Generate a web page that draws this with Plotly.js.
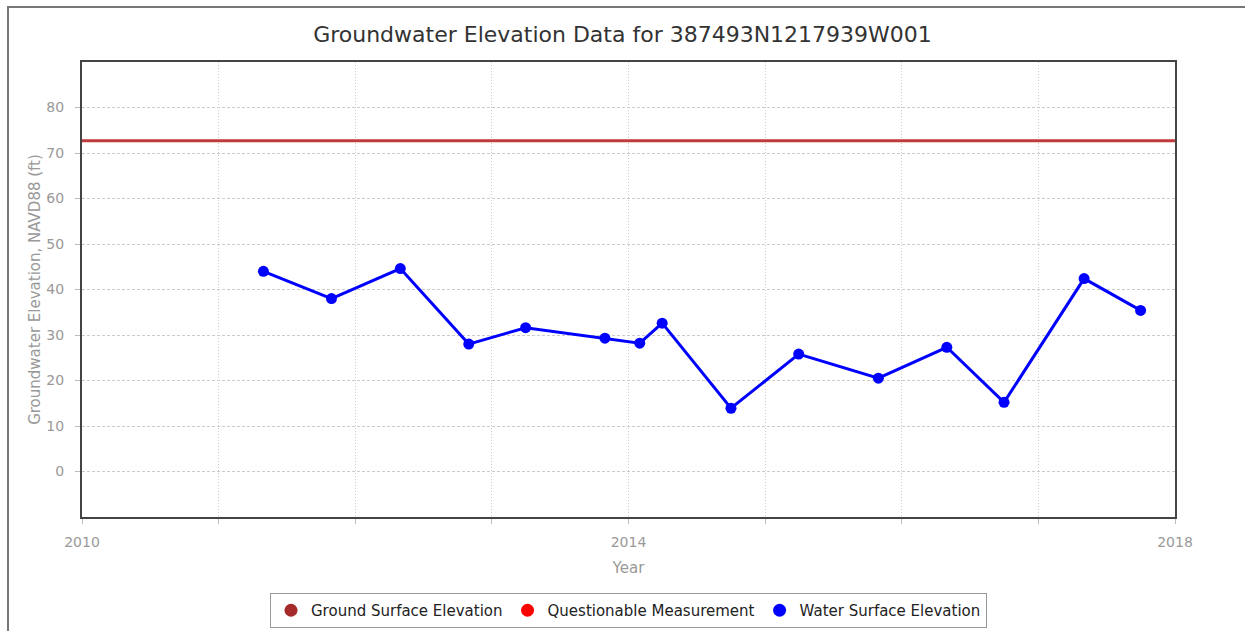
<!DOCTYPE html>
<html>
<head>
<meta charset="utf-8">
<script src="https://cdn.plot.ly/plotly-3.0.1.min.js"></script>
<style>
html,body{margin:0;padding:0;background:#fff;overflow:hidden;}
#frame{position:absolute;left:7px;top:6px;width:1400px;height:800px;border:2px solid #777;box-sizing:border-box;}
#chart{position:absolute;left:0;top:0;width:1245px;height:631px;}
</style>
</head>
<body>
<div id="frame"></div>
<div id="chart"></div>
<script>
// Water surface elevation measurements
var measureDates = ['2011-05-01','2011-10-30','2012-05-01','2012-10-31','2013-04-01','2013-10-30','2014-01-31','2014-04-01','2014-10-02','2015-04-01','2015-10-31','2016-05-01','2016-10-01','2017-05-03','2017-10-01'];
var waterElev = [44.0, 38.0, 44.6, 28.0, 31.6, 29.3, 28.2, 32.6, 13.9, 25.8, 20.5, 27.3, 15.2, 42.4, 35.4];
// Ground surface elevation (constant reference line)
var groundDates = ['2010-01-01','2018-01-01'];
var groundElev = [72.7, 72.7];
// Questionable measurements (none)
var questDates = [];
var questElev = [];
// Axis ticks
var xTickVals = ['2010-01-01','2011-01-01','2012-01-01','2013-01-01','2014-01-01','2015-01-01','2016-01-01','2017-01-01','2018-01-01'];
var xTickText = ['2010','','','','2014','','','','2018'];
var yTickVals = [0,10,20,30,40,50,60,70,80];

var font = 'DejaVu Sans, Verdana, sans-serif';

var traces = [
  {x: groundDates, y: groundElev, mode: 'lines', line: {color: '#c0393b', width: 3}, showlegend: false, hoverinfo: 'skip'},
  {x: measureDates, y: waterElev, mode: 'lines+markers', line: {color: '#0000ff', width: 3}, marker: {color: '#0000ff', size: 11}, showlegend: false},
  {x: questDates, y: questElev, mode: 'markers', marker: {color: '#ff0000', size: 11}, showlegend: false},
  // legend entries
  {x: [null], y: [null], mode: 'markers', name: 'Ground Surface Elevation', marker: {color: '#a52a2a', size: 13}},
  {x: [null], y: [null], mode: 'markers', name: 'Questionable Measurement', marker: {color: '#ff0000', size: 13}},
  {x: [null], y: [null], mode: 'markers', name: 'Water Surface Elevation', marker: {color: '#0000ff', size: 13}}
];

var layout = {
  width: 1245, height: 631,
  paper_bgcolor: 'rgba(0,0,0,0)',
  plot_bgcolor: '#fff',
  margin: {l: 82, r: 70, t: 62, b: 114},
  font: {family: font},
  title: {text: 'Groundwater Elevation Data for 387493N1217939W001', font: {family: font, size: 22, color: '#333'}, x: 0.5, xref: 'container', y: 0.945, yanchor: 'middle'},
  xaxis: {
    type: 'date', range: ['2010-01-01','2018-01-01'],
    tickmode: 'array', tickvals: xTickVals, ticktext: xTickText,
    ticks: 'outside', ticklen: 5, tickcolor: '#bbb', ticklabelstandoff: 6,
    tickfont: {family: font, size: 14, color: '#999'},
    showgrid: true, gridcolor: '#ccc', griddash: '1px,2px', gridwidth: 1,
    showline: true, linecolor: '#444', linewidth: 2, mirror: true,
    zeroline: false, automargin: false,
    title: {text: 'Year', font: {family: font, size: 15, color: '#999'}}
  },
  yaxis: {
    range: [-10, 90],
    tickmode: 'array', tickvals: yTickVals,
    ticks: 'outside', ticklen: 5, tickcolor: '#bbb', ticklabelstandoff: 8,
    tickfont: {family: font, size: 14, color: '#999'},
    showgrid: true, gridcolor: '#ccc', griddash: '3px,2px', gridwidth: 1,
    showline: true, linecolor: '#444', linewidth: 2, mirror: true,
    zeroline: false, automargin: false,
    title: {text: 'Groundwater Elevation, NAVD88 (ft)', font: {family: font, size: 15, color: '#999'}}
  },
  legend: {
    orientation: 'h', x: 0.5, xanchor: 'center', xref: 'paper',
    y: 0.0602, yanchor: 'top', yref: 'container',
    bordercolor: '#999', borderwidth: 1, bgcolor: '#fff',
    font: {family: font, size: 15, color: '#222'},
    itemwidth: 30, tracegroupgap: 0
  },
  showlegend: true
};

Plotly.newPlot('chart', traces, layout, {displayModeBar: false, staticPlot: true});
</script>
</body>
</html>
